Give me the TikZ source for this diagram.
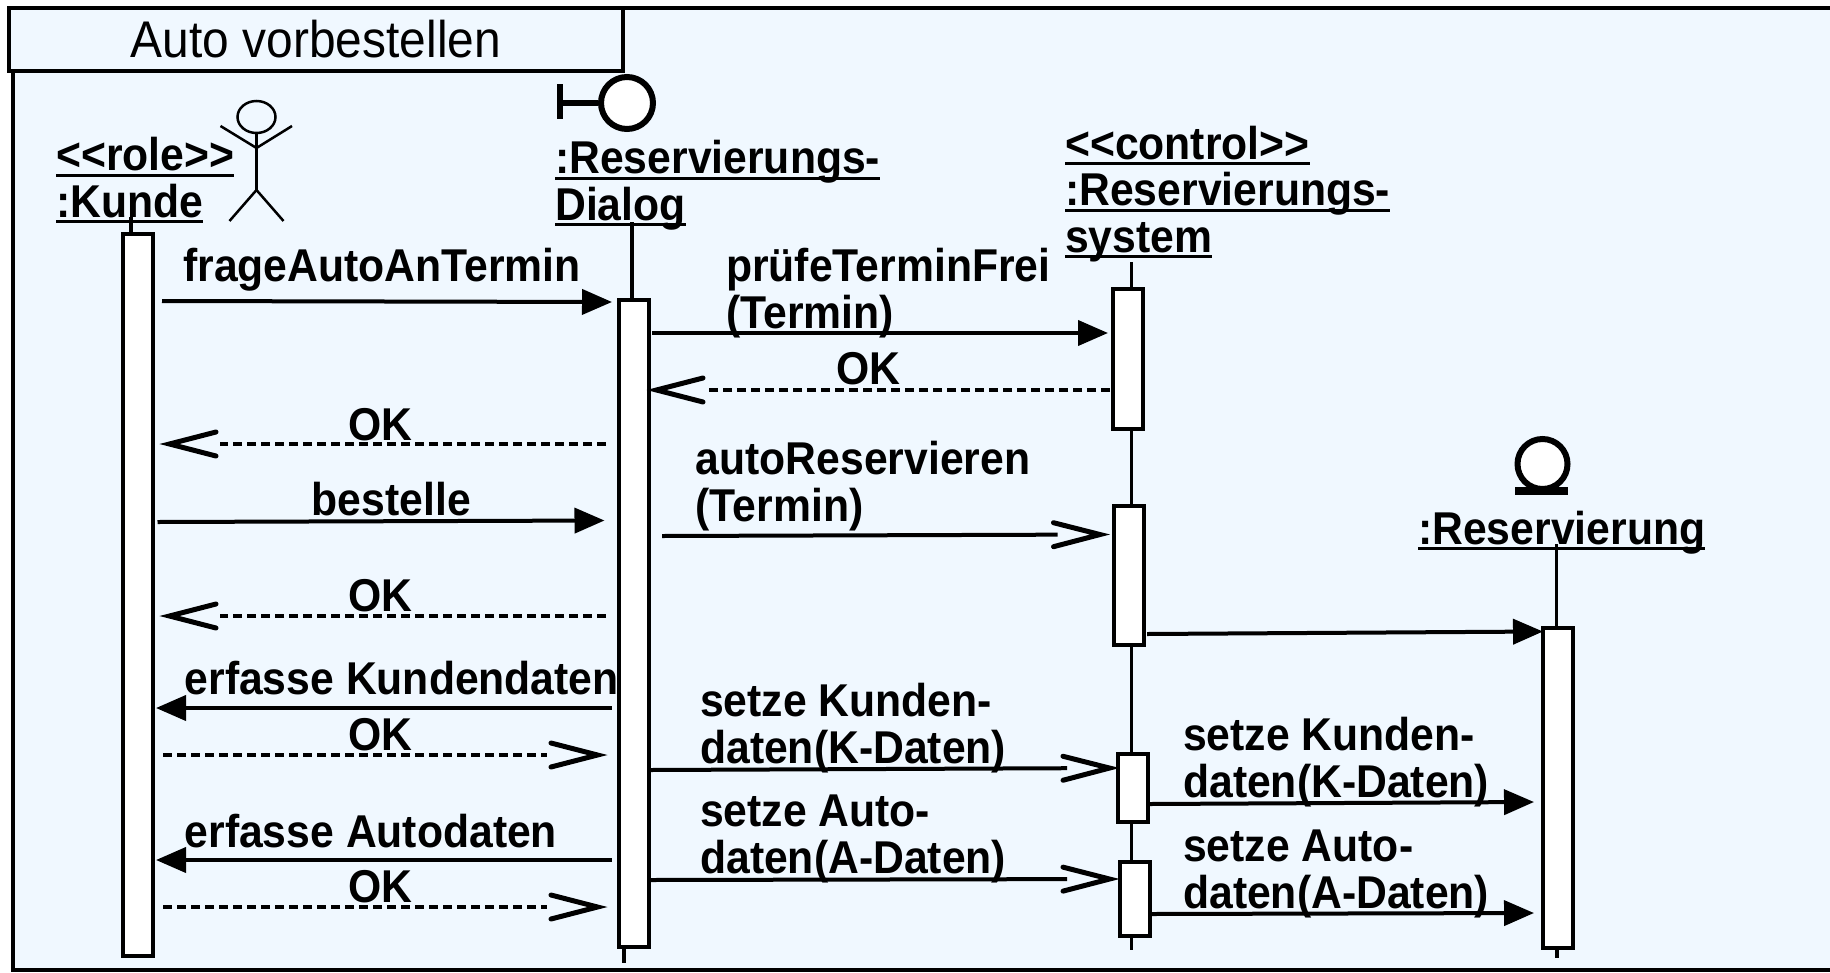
\documentclass[tikz,border=0pt]{standalone}
\usepackage{fontspec}
\setmainfont{Liberation Sans}[FakeStretch=0.928]
\usetikzlibrary{arrows.meta, positioning, shapes.geometric, decorations.markings}
\definecolor{framebg}{HTML}{F0F8FF}
\newcommand{\ulbl}[1]{\setbox0=\hbox{#1}\rlap{\rule[-6pt]{\wd0}{3pt}}\box0}
\begin{document}
\begin{tikzpicture}[
    x=1pt, y=-1pt,
    frame/.style={draw, line width=4pt, fill=framebg},
    bar/.style={rectangle, draw, line width=4pt, fill=white, minimum width=30pt, inner sep=0pt, outer sep=0pt},
    lifeline/.style={line width=3.5pt},
    stick/.style={line width=2.5pt},
    objlabel/.style={anchor=base west, inner sep=0pt, align=left, font=\fontsize{46}{46.5}\selectfont\bfseries},
    msg/.style={anchor=base west, inner sep=0pt, align=left, font=\fontsize{46}{47}\selectfont\bfseries},
    sync/.style={line width=4pt, -{Triangle[length=30pt,width=25pt]}},
    barbhead/.style={decoration={markings, mark=at position 1 with {\draw[solid, shorten >=0pt, line width=5pt, line cap=round] (-54pt,12pt) -- (-7.5pt,0pt) -- (-54pt,-12pt);}}, postaction={decorate}},
    async/.style={line width=4pt, shorten >=50pt, barbhead},
    reply/.style={line width=4pt, dash pattern=on 9pt off 5pt, shorten >=58pt, barbhead}
]
\useasboundingbox (0,0) rectangle (1830,972);

\draw[frame] (12.5,7.5) rectangle (1840,970);
\node (title) [rectangle, draw, line width=4pt, fill=framebg, minimum width=614pt, minimum height=63pt, inner sep=0pt, outer sep=0pt, anchor=north west, font=\fontsize{51.6}{52}\selectfont] at (9,8) {Auto vorbestellen};

\node (role) [objlabel] at (56,217) {\ulbl{<{}<role>{}>}\\\ulbl{:Kunde}};
\node (dialog) [objlabel] at (555,220) {\ulbl{:Reservierungs-}\\\ulbl{Dialog}};
\node (control) [objlabel] at (1065,252) {\ulbl{<{}<control>{}>}\\\ulbl{:Reservierungs-}\\\ulbl{system}};
\node (reservierung) [objlabel] at (1418,544) {\ulbl{:Reservierung}};

\node (head) [ellipse, draw, stick, fill=framebg, minimum width=38pt, minimum height=32pt, inner sep=0pt] at (256.5,117) {};
\coordinate (neck) at (256.5,148);
\coordinate (hip) at (256.5,190);
\draw[stick] (head) -- (hip);
\draw[stick] (220.5,126) -- (neck) -- (292,126);
\draw[stick] (229.5,221) -- (hip) -- (283.5,221);

\node (boundary) [circle, draw, line width=6pt, fill=white, minimum size=52pt, inner sep=0pt] at (627,103) {};
\coordinate (stem) at (560,103);
\draw[line width=6pt] (boundary) -- (stem);
\draw[line width=6pt] (560,84) -- (stem) -- (560,119);

\node (entity) [circle, draw, line width=6pt, fill=white, minimum size=50pt, inner sep=0pt] at (1542.5,464) {};
\node (entityline) [rectangle, fill=black, minimum width=53pt, minimum height=7.5pt, inner sep=0pt] at (1541.5,491) {};

\node (barKunde) [bar, minimum height=722pt] at (137.7,595) {};
\node (barDialog) [bar, minimum height=647pt] at (633.5,623.5) {};
\node (barControlA) [bar, minimum height=140pt] at (1128,359) {};
\node (barControlB) [bar, minimum height=139pt] at (1128.7,575) {};
\node (barControlC) [bar, minimum height=68pt] at (1133,787.5) {};
\node (barControlD) [bar, minimum height=74pt] at (1135,899) {};
\node (barReservierung) [bar, minimum height=320pt] at (1558,788) {};

\coordinate (lifeKunde) at (131,217);
\coordinate (lifeDialog) at (632,222);
\coordinate (lifeControl) at (1131.6,262);
\coordinate (lifeControlEnd) at (1131.6,950);
\coordinate (lifeReservierung) at (1556.5,544);
\coordinate (stubKunde) at (137,958);
\coordinate (stubDialog) at (624,963);
\coordinate (stubReservierung) at (1557,958);

\draw[lifeline] (lifeKunde) -- (lifeKunde |- barKunde.north);
\draw[lifeline] (lifeDialog) -- (lifeDialog |- barDialog.north);
\draw[lifeline] (lifeControl) -- (lifeControl |- barControlA.north);
\draw[lifeline] (lifeControl |- barControlA.south) -- (lifeControl |- barControlB.north);
\draw[lifeline] (lifeControl |- barControlB.south) -- (lifeControl |- barControlC.north);
\draw[lifeline] (lifeControl |- barControlC.south) -- (lifeControl |- barControlD.north);
\draw[lifeline] (lifeControl |- barControlD.south) -- (lifeControlEnd);
\draw[lifeline] (lifeReservierung) -- (lifeReservierung |- barReservierung.north);
\draw[lifeline] (stubKunde |- barKunde.south) -- (stubKunde);
\draw[lifeline] (stubDialog |- barDialog.south) -- (stubDialog);
\draw[lifeline] (stubReservierung |- barReservierung.south) -- (stubReservierung);

\node (frage) [msg] at (183,281) {frageAutoAnTermin};
\node (pruefe) [msg] at (726,328) {prüfeTerminFrei\\(Termin)};
\node (okA) [msg] at (836,384) {OK};
\node (okB) [msg] at (348,440) {OK};
\node (autores) [msg] at (695.5,521) {autoReservieren\\(Termin)};
\node (bestelle) [msg] at (311.6,515) {bestelle};
\node (okC) [msg] at (348,611.5) {OK};
\node (kunden) [msg] at (184.5,694.5) {erfasse Kundendaten};
\node (okD) [msg] at (348,750) {OK};
\node (autod) [msg] at (184.5,847) {erfasse Autodaten};
\node (okE) [msg] at (348,902) {OK};
\node (setzeKA) [msg] at (700,763) {setze Kunden-\\daten(K-Daten)};
\node (setzeAA) [msg] at (700,873) {setze Auto-\\daten(A-Daten)};
\node (setzeKB) [msg] at (1183,797) {setze Kunden-\\daten(K-Daten)};
\node (setzeAB) [msg] at (1183,908) {setze Auto-\\daten(A-Daten)};

\coordinate (frageS) at (162,301);
\coordinate (frageE) at (612,302);
\coordinate (pruefeS) at (652,333);
\coordinate (pruefeE) at (1108,333);
\coordinate (okAS) at (1110,390);
\coordinate (okAE) at (649,390);
\coordinate (okBS) at (606,444);
\coordinate (okBE) at (162,444);
\coordinate (autoS) at (662,536);
\coordinate (autoE) at (1107.5,534.5);
\coordinate (bestelleS) at (157.5,522);
\coordinate (bestelleE) at (604.5,520.5);
\coordinate (okCS) at (606,616);
\coordinate (okCE) at (162,616);
\coordinate (reservS) at (1147,634);
\coordinate (reservE) at (1543,631.5);
\coordinate (kundenS) at (611.5,708);
\coordinate (kundenE) at (156,708);
\coordinate (okDS) at (163,755);
\coordinate (okDE) at (605,755);
\coordinate (autodS) at (611.5,860);
\coordinate (autodE) at (156,860);
\coordinate (okES) at (163,907);
\coordinate (okEE) at (605,907);
\coordinate (setzeKAS) at (650,770);
\coordinate (setzeKAE) at (1117,768);
\coordinate (setzeAAS) at (650,880);
\coordinate (setzeAAE) at (1117,879);
\coordinate (setzeKBS) at (1150,804);
\coordinate (setzeKBE) at (1534,802);
\coordinate (setzeABS) at (1151,914);
\coordinate (setzeABE) at (1534,913);

\draw[sync] (frageS) -- (frageE);
\draw[sync] (pruefeS) -- (pruefeE);
\draw[reply] (okAS) -- (okAE);
\draw[reply] (okBS) -- (okBE);
\draw[async] (autoS) -- (autoE);
\draw[sync] (bestelleS) -- (bestelleE);
\draw[reply] (okCS) -- (okCE);
\draw[sync] (reservS) -- (reservE);
\draw[sync] (kundenS) -- (kundenE);
\draw[reply] (okDS) -- (okDE);
\draw[sync] (autodS) -- (autodE);
\draw[reply] (okES) -- (okEE);
\draw[async] (setzeKAS) -- (setzeKAE);
\draw[async] (setzeAAS) -- (setzeAAE);
\draw[sync] (setzeKBS) -- (setzeKBE);
\draw[sync] (setzeABS) -- (setzeABE);

\end{tikzpicture}
\end{document}
